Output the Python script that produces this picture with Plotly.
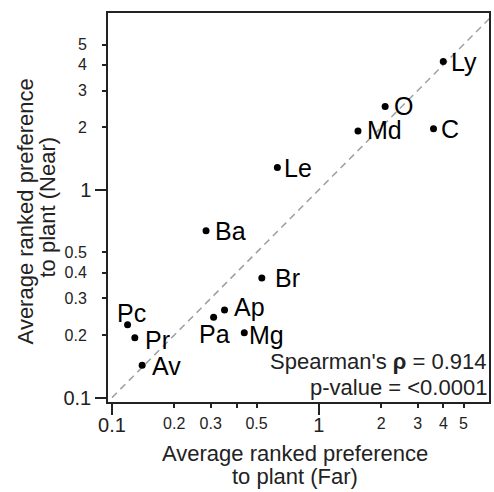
import math
import plotly.graph_objects as go

# ---- data ----
labels = ["Ly", "O", "Md", "C", "Le", "Ba", "Br", "Ap", "Pa", "Mg", "Pc", "Pr", "Av"]
far = [3.99, 2.09, 1.545, 3.58, 0.63, 0.285, 0.53, 0.35, 0.31, 0.436, 0.119, 0.129, 0.14]
near = [4.14, 2.52, 1.92, 1.97, 1.28, 0.635, 0.376, 0.264, 0.244, 0.205, 0.224, 0.194, 0.143]

identity_line = [0.1, 10]

major_vals = [0.1, 1]
major_text = ["0.1", "1"]
x_minor_vals = [0.2, 0.3, 0.4, 0.5, 2, 3, 4, 5]
x_minor_text = ["0.2", "0.3", "", "0.5", "2", "3", "4", "5"]
y_minor_vals = [0.2, 0.3, 0.4, 0.5, 2, 3, 4, 5]
y_minor_text = ["0.2", "0.3", "0.4", "0.5", "2", "3", "4", "5"]

stat_lines = ["Spearman's <b>ρ</b> = 0.914", "p-value = <0.0001"]
x_title = ["Average ranked preference", "to plant (Far)"]
y_title = ["Average ranked preference", "to plant (Near)"]

# label placement (anchor, x offset px, y offset px)
label_place = [
    ("left", 7, 0), ("left", 8, 0), ("left", 8, 1), ("left", 6, 0),
    ("left", 6, 0), ("left", 8, 0), ("left", 12, 0), ("left", 8, 3),
    ("center", 1, -17), ("left", 4, -2), ("center", 4, 12), ("left", 9, -2),
    ("left", 9, -1),
]

FONT = "Liberation Sans, Arial, sans-serif"
XR = [-1.019, 0.822]
YR = [-1.021, 0.851]

fig = go.Figure()
fig.add_trace(go.Scatter(
    x=identity_line, y=identity_line, mode="lines",
    line=dict(color="#a0a0a0", width=1.5, dash="7px,5px"),
    hoverinfo="skip", showlegend=False))
fig.add_trace(go.Scatter(
    x=far, y=near, mode="markers",
    marker=dict(color="black", size=7),
    showlegend=False))
fig.add_trace(go.Scatter(x=[None], y=[None], xaxis="x2", yaxis="y2",
                         showlegend=False, hoverinfo="skip"))

anns = []
for lab, xv, yv, (anc, dx, dy) in zip(labels, far, near, label_place):
    anns.append(dict(x=math.log10(xv), y=math.log10(yv), xref="x", yref="y",
                     text=lab, showarrow=False,
                     xanchor=anc, yanchor="middle", xshift=dx, yshift=dy,
                     borderpad=0, font=dict(size=25, color="black", family=FONT)))

anns.append(dict(x=0.998, y=0.104, xref="paper", yref="paper", text=stat_lines[0],
                 showarrow=False, xanchor="right", yanchor="middle", borderpad=0,
                 font=dict(size=22, color="#222", family=FONT)))
anns.append(dict(x=0.998, y=0.036, xref="paper", yref="paper", text=stat_lines[1],
                 showarrow=False, xanchor="right", yanchor="middle", borderpad=0,
                 font=dict(size=22, color="#222", family=FONT)))

# axis titles
anns.append(dict(x=0.49, y=0, xref="paper", yref="paper", text=x_title[0],
                 showarrow=False, xanchor="center", yanchor="middle", yshift=-51,
                 borderpad=0, font=dict(size=22, color="#222", family=FONT)))
anns.append(dict(x=0.49, y=0, xref="paper", yref="paper", text=x_title[1],
                 showarrow=False, xanchor="center", yanchor="middle", yshift=-74,
                 borderpad=0, font=dict(size=22, color="#222", family=FONT)))
anns.append(dict(x=0, y=0.49, xref="paper", yref="paper", text=y_title[0],
                 showarrow=False, xanchor="center", yanchor="middle", xshift=-83,
                 textangle=-90, borderpad=0, font=dict(size=22, color="#222", family=FONT)))
anns.append(dict(x=0, y=0.50, xref="paper", yref="paper", text=y_title[1],
                 showarrow=False, xanchor="center", yanchor="middle", xshift=-61,
                 textangle=-90, borderpad=0, font=dict(size=22, color="#222", family=FONT)))

axis_common = dict(type="log", showgrid=False, zeroline=False, ticks="outside",
                   tickcolor="#222", tickwidth=1.5)

fig.update_layout(
    width=494, height=492,
    margin=dict(l=108, r=3, t=13, b=90),
    paper_bgcolor="white", plot_bgcolor="white",
    font=dict(family=FONT, color="#222"),
    xaxis=dict(axis_common, range=XR, tickvals=major_vals, ticktext=major_text,
               ticklen=11, ticklabelstandoff=-7, tickfont=dict(size=20, color="#222"),
               showline=True, mirror=True, linecolor="#222", linewidth=1.5),
    yaxis=dict(axis_common, range=YR, tickvals=major_vals, ticktext=major_text,
               ticklen=11, tickfont=dict(size=20, color="#222"),
               showline=True, mirror=True, linecolor="#222", linewidth=1.5),
    xaxis2=dict(axis_common, range=XR, overlaying="x", anchor="y", side="bottom",
                tickvals=x_minor_vals, ticktext=x_minor_text, ticklen=5,
                ticklabelstandoff=2,
                tickfont=dict(size=16, color="#222"), showline=False),
    yaxis2=dict(axis_common, range=YR, overlaying="y", anchor="x", side="left",
                tickvals=y_minor_vals, ticktext=y_minor_text, ticklen=5,
                ticklabelstandoff=12,
                tickfont=dict(size=16, color="#222"), showline=False),
    annotations=anns,
    showlegend=False,
)

fig.write_html("out.html", config={"displayModeBar": False},
               post_script="document.body.style.margin='0';document.body.style.overflow='hidden';")
